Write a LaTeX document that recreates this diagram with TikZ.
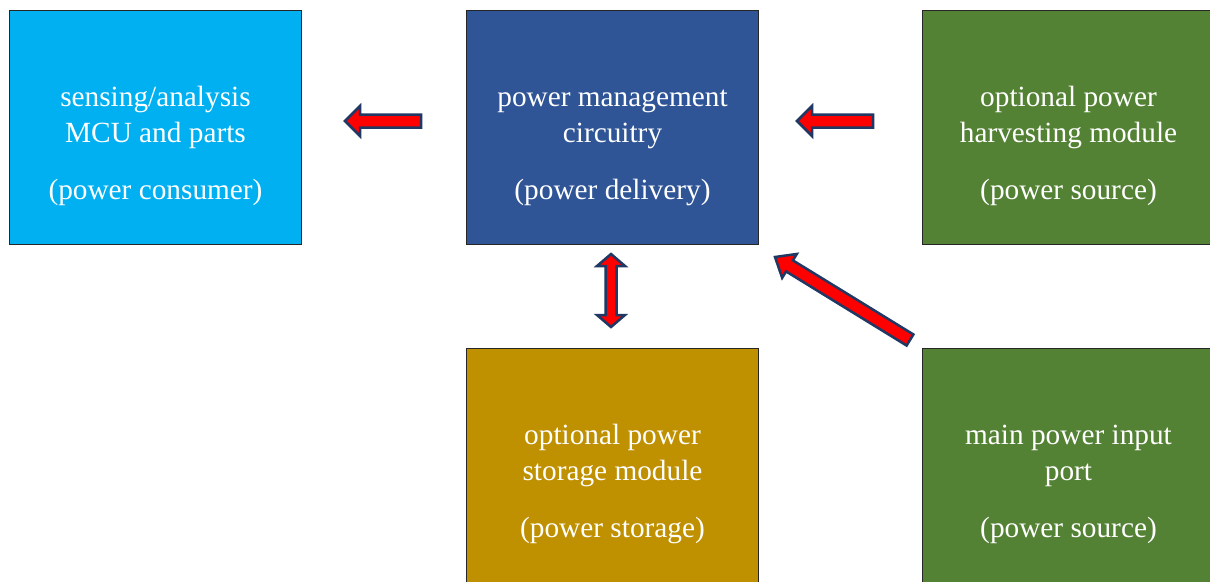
\documentclass[tikz,border=0pt]{standalone}
\usepackage{fontspec}
\setmainfont{Liberation Serif}
\usetikzlibrary{calc}
\definecolor{cyanbox}{HTML}{00B0F0}
\definecolor{bluebox}{HTML}{2F5597}
\definecolor{greenbox}{HTML}{548235}
\definecolor{goldbox}{HTML}{BF9000}
\definecolor{arrowline}{HTML}{203864}
\tikzset{
  panel/.style={draw=black!85, line width=1pt, minimum width=292pt, minimum height=234pt, inner sep=0pt, anchor=north west},
  ptext/.style={text=white, font=\fontsize{29.3}{35}\selectfont, anchor=base, inner sep=0pt},
  blockarr/.style={fill=red, draw=arrowline, line width=2.5pt, line join=miter},
}
\newcommand\paneltext[4]{%
  \node[ptext] (#1-l1) at ($(#1.north)+(0,96)$) {#2};
  \node[ptext] (#1-l2) at ($(#1.north)+(0,132)$) {#3};
  \node[ptext] (#1-l3) at ($(#1.north)+(0,189)$) {#4};
}
% tail, tip, shaft half width, head half width, head length
\newcommand\blockarrow[5]{%
  \coordinate (#2-n) at ($(#2)!#5pt!(#1)$);
  \draw[blockarr] ($(#1)!#3pt!90:(#2)$) -- ($(#2-n)!#3pt!90:(#2)$) -- ($(#2-n)!#4pt!90:(#2)$)
    -- (#2) -- ($(#2-n)!#4pt!-90:(#2)$) -- ($(#2-n)!#3pt!-90:(#2)$) -- ($(#1)!#3pt!-90:(#2)$) -- cycle;
}
\newcommand\dblarrow[5]{%
  \coordinate (#1-n) at ($(#1)!#5pt!(#2)$);
  \coordinate (#2-n) at ($(#2)!#5pt!(#1)$);
  \draw[blockarr] (#1) -- ($(#1-n)!#4pt!90:(#2)$) -- ($(#1-n)!#3pt!90:(#2)$)
    -- ($(#2-n)!#3pt!-90:(#1)$) -- ($(#2-n)!#4pt!-90:(#1)$) -- (#2)
    -- ($(#2-n)!#4pt!90:(#1)$) -- ($(#2-n)!#3pt!90:(#1)$)
    -- ($(#1-n)!#3pt!-90:(#2)$) -- ($(#1-n)!#4pt!-90:(#2)$) -- cycle;
}
\begin{document}
\begin{tikzpicture}[x=1pt,y=-1pt]
\useasboundingbox (0,0) rectangle (1210,581);
\clip (0,0) rectangle (1210,581);
\fill[white] (0,0) rectangle (1210,581);
% panels
\node[panel, fill=cyanbox] (A) at (9,10) {};
\node[panel, fill=bluebox] (B) at (466,10) {};
\node[panel, fill=greenbox] (C) at (922,10) {};
\node[panel, fill=goldbox] (D) at (466,348) {};
\node[panel, fill=greenbox] (E) at (922,348) {};
\paneltext{A}{sensing/analysis}{MCU and parts}{(power consumer)}
\paneltext{B}{power management}{circuitry}{(power delivery)}
\paneltext{C}{optional power}{harvesting module}{(power source)}
\paneltext{D}{optional power}{storage module}{(power storage)}
\paneltext{E}{main power input}{port}{(power source)}
% arrows
\coordinate (a1t) at (421,121);
\coordinate (a1h) at (345,121);
\coordinate (a2t) at (873,121);
\coordinate (a2h) at (797,121);
\coordinate (a3a) at (611,254);
\coordinate (a3b) at (611,327);
\coordinate (a4t) at (910,340);
\coordinate (a4h) at (775,257);
\blockarrow{a1t}{a1h}{6.5}{15}{15}
\blockarrow{a2t}{a2h}{6.5}{15}{15}
\dblarrow{a3a}{a3b}{5.5}{14}{12}
\blockarrow{a4t}{a4h}{6.5}{14}{17}
\end{tikzpicture}
\end{document}
